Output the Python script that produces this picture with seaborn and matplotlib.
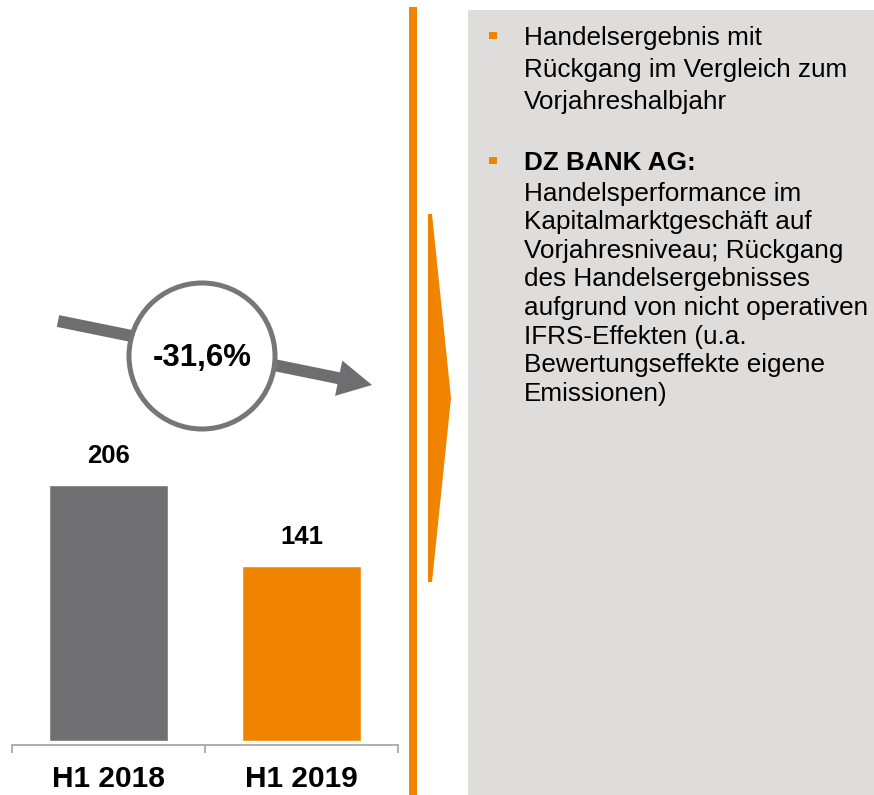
import matplotlib
matplotlib.use("Agg")
import matplotlib.pyplot as plt
import seaborn as sns
from matplotlib.patches import Rectangle, Polygon, Circle, FancyArrow

# Daten
perioden = ["H1 2018", "H1 2019"]
werte = [206, 141]
farben = ["#707072", "#f08300"]
veraenderung = "-31,6%"
punkt1 = "Handelsergebnis mit\nRückgang im Vergleich zum\nVorjahreshalbjahr"
punkt2_titel = "DZ BANK AG:"
punkt2_text = ("Handelsperformance im\nKapitalmarktgeschäft auf\nVorjahresniveau; Rückgang\n"
               "des Handelsergebnisses\naufgrund von nicht operativen\nIFRS-Effekten (u.a.\n"
               "Bewertungseffekte eigene\nEmissionen)")

orange = "#f08300"
grau = "#6e6e70"

sns.set_theme(style="white")
plt.rcParams["font.family"] = ["Liberation Sans", "DejaVu Sans"]
plt.rcParams["text.color"] = "black"
plt.rcParams["xtick.labelcolor"] = "black"

W, H = 874, 795
fig = plt.figure(figsize=(W / 100, H / 100), dpi=100)

# Hintergrund / Deko in Pixelkoordinaten
bg = fig.add_axes([0, 0, 1, 1])
bg.set_xlim(0, W)
bg.set_ylim(H, 0)
bg.axis("off")
bg.add_patch(Rectangle((468, 10), 406, 785, color="#dedddc", lw=0))
bg.add_patch(Rectangle((409, 7), 8, 788, color=orange, lw=0))
bg.add_patch(Polygon([(428, 214), (432, 214), (451, 398), (432, 582), (428, 582)], color=orange, lw=0))

# Pfeil mit Kreis
bg.add_patch(FancyArrow(58, 321, 314, 64, width=12, head_width=36, head_length=34,
                        length_includes_head=True, color=grau, lw=0, zorder=2))
bg.add_patch(Circle((202, 356), 73, facecolor="white", edgecolor="#767676", lw=3.6, zorder=3))
bg.text(202, 358, veraenderung, ha="center", va="center", fontsize=22.5, fontweight="bold", zorder=4)

# Textpunkte rechts
bg.add_patch(Rectangle((489, 32), 8, 7, color=orange, lw=0))
bg.add_patch(Rectangle((489, 157), 8, 7, color=orange, lw=0))
bg.text(524, 26, punkt1, va="top", ha="left", fontsize=18.8, linespacing=1.42)
bg.text(524, 150.5, punkt2_titel, va="top", ha="left", fontsize=18.8, fontweight="bold")
bg.text(524, 181.5, punkt2_text, va="top", ha="left", fontsize=18.8, linespacing=1.245)

# Balkendiagramm
ax = fig.add_axes([12 / W, 54 / H, 386 / W, 731 / H])
ax.patch.set_visible(False)
sns.barplot(x=perioden, y=werte, hue=perioden, palette=farben, saturation=1,
            width=0.62, legend=False, ax=ax)
ax.set_xlim(-0.5, 1.5)
ax.set_ylim(0, 588)
for c in ax.containers:
    ax.bar_label(c, padding=12, fontsize=18.5, fontweight="bold")

sns.despine(ax=ax, left=True, offset=3)
ax.spines["bottom"].set_color("#a8a8a8")
ax.spines["bottom"].set_linewidth(1.3)
ax.set_yticks([])
ax.set_xlabel("")
ax.set_ylabel("")
ax.set_xticks([0, 1])
ax.set_xticklabels(perioden, fontsize=21.5, fontweight="bold")
ax.set_xticks([-0.5, 0.5, 1.5], minor=True)
ax.tick_params(axis="x", which="major", length=0, pad=14.5)
ax.tick_params(axis="x", which="minor", bottom=True, length=6, width=1.3, color="#a8a8a8")

fig.savefig("out.png", dpi=100)
